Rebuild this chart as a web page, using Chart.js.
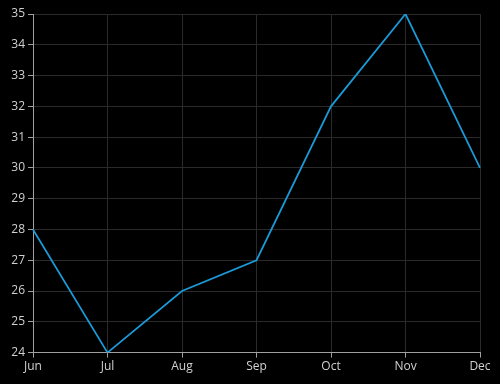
<!DOCTYPE html>
<html>
<head>
<meta charset="utf-8">
<script src="https://cdn.jsdelivr.net/npm/chart.js@4.4.1/dist/chart.umd.min.js"></script>
<style>
  html, body { margin: 0; padding: 0; background: #000; }
  #wrap { width: 500px; height: 384px; }
</style>
</head>
<body>
<div id="wrap"><canvas id="chart" width="500" height="384"></canvas></div>
<script>
const months = ['Jun', 'Jul', 'Aug', 'Sep', 'Oct', 'Nov', 'Dec'];
const values = [28, 24, 26, 27, 32, 35, 30];
const yMin = 24;
const yMax = 35;

const axisColor = '#a0a0a0';
const gridColor = '#2a2a2a';
const labelColor = '#d0d0d0';

new Chart(document.getElementById('chart'), {
    type: 'line',
    data: {
        labels: months,
        datasets: [{
            data: values,
            borderColor: '#1a9ad8',
            borderWidth: 1.75,
            pointRadius: 0,
            tension: 0,
            fill: false
        }]
    },
    options: {
        responsive: false,
        animation: false,
        layout: { padding: { left: 0, right: 20, top: 14, bottom: 8 } },
        plugins: {
            legend: { display: false },
            tooltip: { enabled: false }
        },
        scales: {
            x: {
                offset: false,
                grid: { color: gridColor, tickColor: axisColor, tickLength: 5 },
                border: { color: axisColor, width: 1 },
                ticks: { color: labelColor, font: { family: 'Open Sans', size: 12 }, padding: 2, maxRotation: 0 }
            },
            y: {
                min: yMin,
                max: yMax,
                afterFit: (scale) => { scale.width = 33; },
                grid: { color: gridColor, tickColor: axisColor, tickLength: 5 },
                border: { color: axisColor, width: 1 },
                ticks: { stepSize: 1, color: labelColor, font: { family: 'Open Sans', size: 12 }, padding: 3 }
            }
        }
    }
});
</script>
</body>
</html>
